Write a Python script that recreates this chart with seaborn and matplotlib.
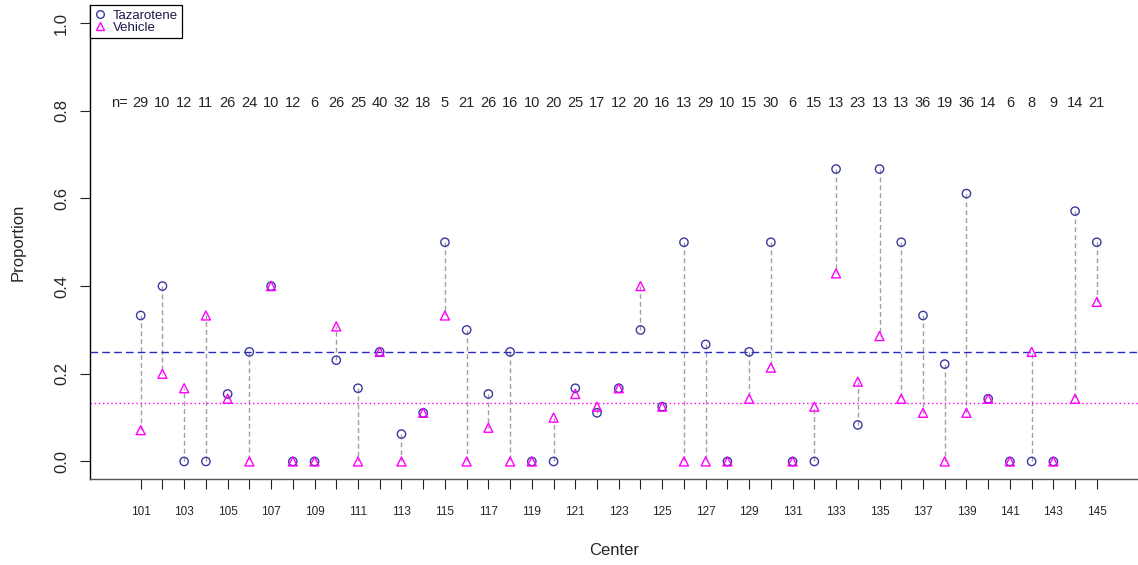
import matplotlib
matplotlib.use("Agg")
import matplotlib.pyplot as plt
from matplotlib.lines import Line2D
import numpy as np
import pandas as pd
import seaborn as sns

# Per-centre response proportions for each arm, and number of subjects per centre
centers = list(range(101, 146))
tazarotene = [0.333, 0.4, 0.0, 0.0, 0.154, 0.25, 0.4, 0.0, 0.0, 0.231,
              0.167, 0.25, 0.0625, 0.111, 0.5, 0.3, 0.154, 0.25, 0.0, 0.0,
              0.167, 0.111, 0.167, 0.3, 0.125, 0.5, 0.267, 0.0, 0.25, 0.5,
              0.0, 0.0, 0.667, 0.0833, 0.667, 0.5, 0.333, 0.222, 0.611, 0.143,
              0.0, 0.0, 0.0, 0.571, 0.5]
vehicle = [0.0714, 0.2, 0.167, 0.333, 0.143, 0.0, 0.4, 0.0, 0.0, 0.308,
           0.0, 0.25, 0.0, 0.111, 0.333, 0.0, 0.0769, 0.0, 0.0, 0.1,
           0.154, 0.125, 0.167, 0.4, 0.125, 0.0, 0.0, 0.0, 0.143, 0.214,
           0.0, 0.125, 0.429, 0.182, 0.286, 0.143, 0.111, 0.0, 0.111, 0.143,
           0.0, 0.25, 0.0, 0.143, 0.364]
n_subjects = [29, 10, 12, 11, 26, 24, 10, 12, 6, 26, 25, 40, 32, 18, 5, 21, 26,
              16, 10, 20, 25, 17, 12, 20, 16, 13, 29, 10, 15, 30, 6, 15, 13, 23,
              13, 13, 36, 19, 36, 14, 6, 8, 9, 14, 21]
overall_tazarotene = 0.25
overall_vehicle = 0.133
tick_labels = [str(c) if (c - 101) % 2 == 0 else "" for c in centers]

df = pd.DataFrame({"Center": centers, "Tazarotene": tazarotene, "Vehicle": vehicle})

sns.set_style("white")
plt.rcParams["font.family"] = ["Liberation Sans", "DejaVu Sans"]

BLUE_PT = "#3a3aa0"
BLUE_LINE = "#2a2ac0"
MAGENTA = "#ff00ff"
GREY = "#a0a0a0"

fig = plt.figure(figsize=(11.38, 5.65), dpi=100)
ax = fig.add_axes([0.07909, 0.15221, 0.92091, 0.83806])

# Connect the two arms within each centre
ax.vlines(df["Center"], df["Tazarotene"], df["Vehicle"], colors=GREY,
          linewidth=1.0, linestyles=[(0, (3.5, 2.2))], zorder=1)

# Overall proportions
ax.axhline(overall_tazarotene, color=BLUE_LINE, linewidth=1.0,
           linestyle=(0, (5.5, 3.0)), zorder=1)
ax.axhline(overall_vehicle, color=MAGENTA, linewidth=1.0,
           linestyle=(0, (1.0, 2.0)), zorder=1)

sns.scatterplot(data=df, x="Center", y="Tazarotene", ax=ax, marker="o", s=36,
                color=BLUE_PT, facecolor="none", edgecolor=BLUE_PT,
                linewidth=1.0, zorder=3)
sns.scatterplot(data=df, x="Center", y="Vehicle", ax=ax, marker="^", s=42,
                color=MAGENTA, facecolor="none", edgecolor=MAGENTA,
                linewidth=1.0, zorder=4)

# Subject counts per centre
ax.text(100, 0.818, "n=", ha="center", va="center", fontsize=10.5)
for c, n in zip(centers, n_subjects):
    ax.text(c, 0.818, str(n), ha="center", va="center", fontsize=10.5)

ax.set_xlim(98.667, 146.895)
ax.set_ylim(-0.04, 1.04)

ax.set_xticks(centers)
ax.set_xticklabels(tick_labels, fontsize=8.5)
ax.set_yticks([0.0, 0.2, 0.4, 0.6, 0.8, 1.0])
ax.set_yticklabels(["0.0", "0.2", "0.4", "0.6", "0.8", "1.0"], fontsize=12,
                   rotation=90, va="center")
ax.tick_params(axis="x", direction="out", length=7.2, width=0.8, pad=12.5,
               bottom=True, color="#222222")
ax.tick_params(axis="y", direction="out", length=7.2, width=0.8, pad=8,
               left=True, color="#222222")

ax.set_xlabel("Center", fontsize=12, labelpad=18)
ax.set_ylabel("Proportion", fontsize=12, labelpad=20)

for side in ("top", "right"):
    ax.spines[side].set_visible(False)
ax.spines["left"].set_color("black")
ax.spines["left"].set_linewidth(1.0)
ax.spines["bottom"].set_color("#555555")
ax.spines["bottom"].set_linewidth(1.0)

handles = [
    Line2D([], [], linestyle="none", marker="o", markersize=5.5,
           markerfacecolor="none", markeredgecolor=BLUE_PT, markeredgewidth=1.0,
           label="Tazarotene"),
    Line2D([], [], linestyle="none", marker="^", markersize=6,
           markerfacecolor="none", markeredgecolor=MAGENTA, markeredgewidth=1.0,
           label="Vehicle"),
]
leg = ax.legend(handles=handles, loc="upper left", bbox_to_anchor=(0, 1),
                borderaxespad=0, fontsize=9.5, frameon=True, fancybox=False,
                edgecolor="black", framealpha=1, labelspacing=0.0,
                handlelength=0.9, handletextpad=0.55, borderpad=0.3)
leg.get_frame().set_linewidth(0.9)
for t in leg.get_texts():
    t.set_color("#1a1a4a")

fig.savefig("out.png", dpi=100)
